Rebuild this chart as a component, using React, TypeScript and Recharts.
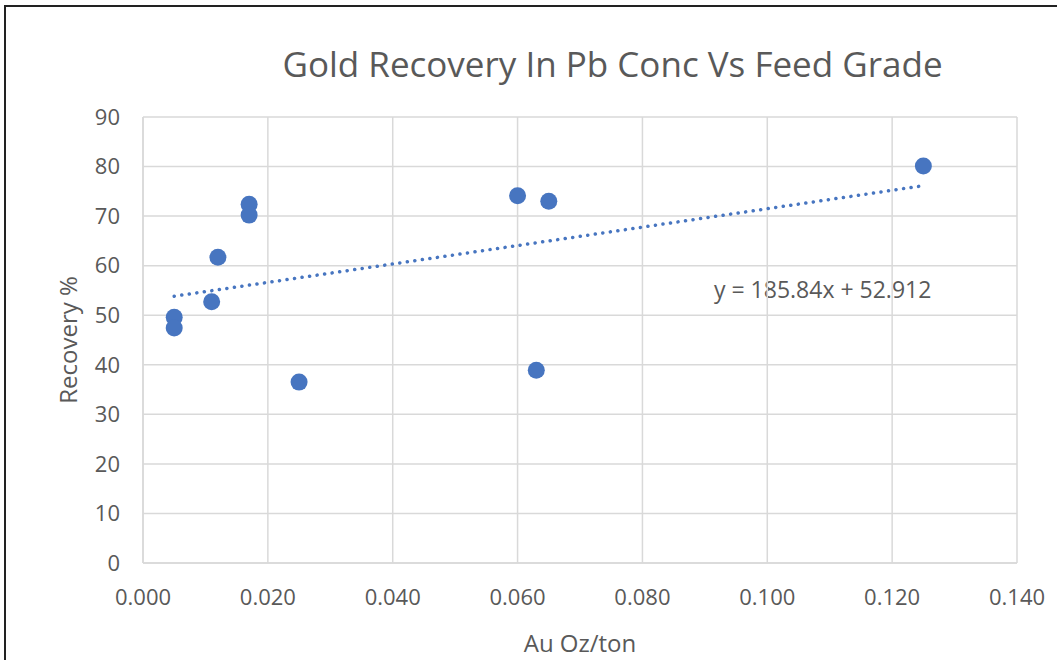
import { ScatterChart, Scatter, XAxis, YAxis, CartesianGrid, Label } from "recharts"

// Au Oz/ton vs Recovery %
const feedGrade = [0.005, 0.005, 0.011, 0.012, 0.017, 0.017, 0.025, 0.06, 0.063, 0.065, 0.125]
const recovery = [49.6, 47.4, 52.7, 61.7, 72.4, 70.2, 36.5, 74.1, 38.9, 73.0, 80.1]

// linear trendline end points (y = 185.84x + 52.912)
const trendX = [0.005, 0.125]
const trendY = [53.84, 76.14]

const xTicks = [0, 0.02, 0.04, 0.06, 0.08, 0.1, 0.12, 0.14]
const yTicks = [0, 10, 20, 30, 40, 50, 60, 70, 80, 90]

const points = feedGrade.map((x, i) => ({ x, y: recovery[i] }))
const trend = trendX.map((x, i) => ({ x, y: trendY[i] }))

const font = "'Open Sans', sans-serif"
const grey = "#595959"
const blue = "#4775C0"

export default function App() {
  return (
    <div style={{ position: "absolute", left: 0, top: 0, width: 1057, height: 660, background: "#fff", overflow: "hidden", fontFamily: font }}>
      <div style={{ position: "absolute", left: 4, top: 5, width: 1060, height: 670, border: "2px solid #222", boxSizing: "border-box" }} />
      <div style={{ position: "absolute", left: 0, width: 1225, top: 46, lineHeight: "35px", textAlign: "center", fontSize: 35, color: grey }}>
        Gold Recovery In Pb Conc Vs Feed Grade
      </div>
      <div style={{ position: "absolute", left: 714, top: 278, lineHeight: "23px", fontSize: 23, color: grey, whiteSpace: "nowrap" }}>
        y = 185.84x + 52.912
      </div>
      <ScatterChart width={1057} height={660} margin={{ top: 117, right: 40, bottom: 0, left: 0 }} style={{ position: "absolute", left: 0, top: 0 }}>
        <CartesianGrid stroke="#d9d9d9" strokeWidth={1.5} />
        <XAxis
          type="number"
          dataKey="x"
          domain={[0, 0.14]}
          ticks={xTicks}
          tickFormatter={(v: number) => v.toFixed(3)}
          axisLine={{ stroke: "#d9d9d9", strokeWidth: 1.5 }}
          tickLine={false}
          height={97}
          tick={{ fill: grey, fontSize: 22, fontFamily: font }}
          tickMargin={20}
        >
          <Label value="Au Oz/ton" position="insideBottom" offset={8} style={{ fill: grey, fontSize: 24, fontFamily: font }} />
        </XAxis>
        <YAxis
          type="number"
          dataKey="y"
          domain={[0, 90]}
          ticks={yTicks}
          axisLine={{ stroke: "#d9d9d9", strokeWidth: 1.5 }}
          tickLine={false}
          width={143}
          tick={{ fill: grey, fontSize: 22, fontFamily: font }}
          tickMargin={17}
        >
          <Label value="Recovery %" angle={-90} position="insideLeft" offset={68} style={{ fill: grey, fontSize: 24, fontFamily: font, textAnchor: "middle" }} />
        </YAxis>
        <Scatter
          data={trend}
          isAnimationActive={false}
          line={{ stroke: blue, strokeWidth: 3.5, strokeDasharray: "0.1 7.5", strokeLinecap: "round" }}
          shape={() => <g />}
        />
        <Scatter data={points} isAnimationActive={false} fill={blue} shape={(p: any) => <circle cx={p.cx} cy={p.cy} r={8.5} fill={blue} />} />
      </ScatterChart>
    </div>
  )
}
